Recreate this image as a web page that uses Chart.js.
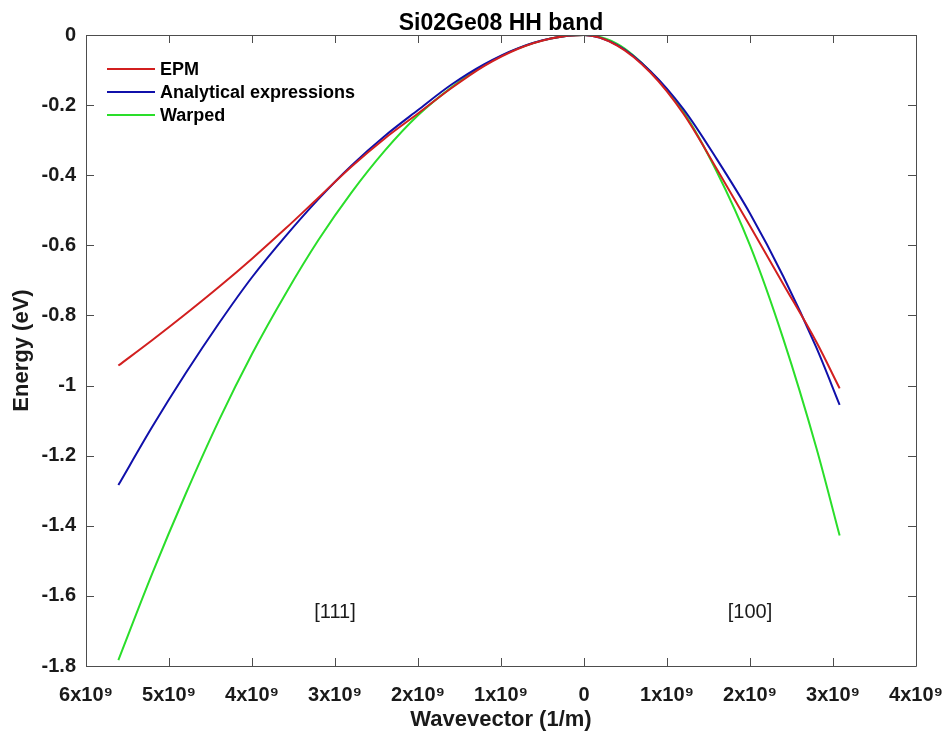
<!DOCTYPE html>
<html>
<head>
<meta charset="utf-8">
<script src="https://cdn.jsdelivr.net/npm/chart.js@4.4.1/dist/chart.umd.min.js"></script>
<style>
  html, body { margin: 0; padding: 0; background: #fff; }
  #wrap { width: 947px; height: 736px; }
</style>
</head>
<body>
<div id="wrap"><canvas id="grafico" width="947" height="736"></canvas></div>
<script>
// Wavevector (in units of 1e9 1/m); negative side = [111], positive side = [100]
const kGrid = [-5.61, -5.2, -4.8, -4.4, -4.0, -3.6, -3.2, -2.8, -2.4, -2.0, -1.6, -1.2, -0.8, -0.4,
  0, 0.4, 0.8, 1.2, 1.6, 2.0, 2.4, 2.8, 3.08];

// Energy (eV)
const epm = [-0.943, -0.87, -0.796, -0.719, -0.638, -0.553, -0.464, -0.375, -0.295, -0.224, -0.152, -0.088, -0.04, -0.01,
  0, -0.03, -0.107, -0.225, -0.382, -0.545, -0.71, -0.876, -1.008];
const analytical = [-1.284, -1.117, -0.965, -0.823, -0.691, -0.575, -0.468, -0.372, -0.288, -0.214, -0.142, -0.083, -0.038, -0.01,
  0, -0.029, -0.103, -0.212, -0.354, -0.509, -0.688, -0.892, -1.055];
const warped = [-1.783, -1.535, -1.31, -1.10, -0.91, -0.74, -0.585, -0.449, -0.33, -0.229, -0.15, -0.086, -0.039, -0.01,
  0, -0.025, -0.104, -0.22, -0.39, -0.60, -0.866, -1.178, -1.428];

const seriesNames = ["EPM", "Analytical expressions", "Warped"];
const seriesColors = ["#d21f1f", "#1010aa", "#2ade2a"];

const xTicks = [-6, -5, -4, -3, -2, -1, 0, 1, 2, 3, 4];
const yTicks = [0, -0.2, -0.4, -0.6, -0.8, -1, -1.2, -1.4, -1.6, -1.8];

// direction labels inside the plot
const notasTexto = ["[111]", "[100]"];
const notasX = [-3.0, 2.0];
const notasY = [-1.646, -1.646];

const FONT = "'Liberation Sans', Arial, Helvetica, sans-serif";
const AXIS = "#4d4d4d";
const TEXT = "#1a1a1a";

function puntos(valores) {
  return kGrid.map((k, i) => ({ x: k * 1e9, y: valores[i] }));
}

// box, inward ticks, legend, notes and title
const decoraciones = {
  id: "decoraciones",
  afterDatasetsDraw(chart) {
    const { ctx, chartArea: a, scales } = chart;
    const sx = scales.x, sy = scales.y;
    ctx.save();
    ctx.strokeStyle = AXIS;
    ctx.lineWidth = 1;
    ctx.beginPath();
    ctx.rect(Math.round(a.left) + 0.5, Math.round(a.top) + 0.5, Math.round(a.right - a.left), Math.round(a.bottom - a.top));
    ctx.stroke();

    const tl = 8;
    ctx.beginPath();
    xTicks.forEach(v => {
      const px = Math.round(sx.getPixelForValue(v * 1e9)) + 0.5;
      ctx.moveTo(px, a.bottom); ctx.lineTo(px, a.bottom - tl);
      ctx.moveTo(px, a.top); ctx.lineTo(px, a.top + tl);
    });
    yTicks.forEach(v => {
      const py = Math.round(sy.getPixelForValue(v)) + 0.5;
      ctx.moveTo(a.left, py); ctx.lineTo(a.left + tl, py);
      ctx.moveTo(a.right, py); ctx.lineTo(a.right - tl, py);
    });
    ctx.stroke();

    // leyenda
    ctx.font = "bold 18px " + FONT;
    ctx.textBaseline = "middle";
    ctx.textAlign = "left";
    seriesNames.forEach((n, i) => {
      const y = 69 + i * 23;
      ctx.strokeStyle = seriesColors[i];
      ctx.lineWidth = 2;
      ctx.beginPath();
      ctx.moveTo(107, y); ctx.lineTo(155, y);
      ctx.stroke();
      ctx.fillStyle = "#000";
      ctx.fillText(n, 160, y + 1);
    });

    // notas
    ctx.font = "20px " + FONT;
    ctx.textAlign = "center";
    ctx.fillStyle = TEXT;
    notasTexto.forEach((t, i) => {
      ctx.fillText(t, sx.getPixelForValue(notasX[i] * 1e9), sy.getPixelForValue(notasY[i]));
    });

    // titulo
    ctx.font = "bold 23px " + FONT;
    ctx.fillStyle = "#000";
    ctx.textBaseline = "alphabetic";
    ctx.fillText("Si02Ge08 HH band", (a.left + a.right) / 2, 30);
    ctx.restore();
  }
};

new Chart(document.getElementById("grafico").getContext("2d"), {
  type: "line",
  data: {
    datasets: [
      { label: seriesNames[0], data: puntos(epm), borderColor: seriesColors[0] },
      { label: seriesNames[1], data: puntos(analytical), borderColor: seriesColors[1] },
      { label: seriesNames[2], data: puntos(warped), borderColor: seriesColors[2] }
    ].map(d => Object.assign(d, { borderWidth: 2, pointRadius: 0, cubicInterpolationMode: "monotone", fill: false }))
  },
  options: {
    responsive: false,
    animation: false,
    events: [],
    layout: { padding: { top: 35, right: 31, left: 0, bottom: 0 } },
    plugins: { legend: { display: false }, tooltip: { enabled: false }, title: { display: false } },
    scales: {
      x: {
        type: "linear",
        min: -6e9,
        max: 4e9,
        afterFit: s => { s.height = 70; s.paddingLeft = 0; s.paddingRight = 0; },
        afterBuildTicks: s => { s.ticks = xTicks.map(v => ({ value: v * 1e9 })); },
        grid: { display: false, drawTicks: false },
        border: { display: false },
        ticks: {
          padding: 17,
          maxRotation: 0,
          autoSkip: false,
          color: TEXT,
          font: { family: FONT, size: 20, weight: "bold" },
          callback: v => v === 0 ? "0" : Math.round(Math.abs(v) / 1e9) + "x10\u2079"
        },
        title: {
          display: true,
          text: "Wavevector (1/m)",
          color: TEXT,
          font: { family: FONT, size: 22, weight: "bold" },
          padding: { top: 0, bottom: 3 }
        }
      },
      y: {
        type: "linear",
        min: -1.8,
        max: 0,
        afterFit: s => { s.width = 86; },
        afterBuildTicks: s => { s.ticks = yTicks.map(v => ({ value: v })); },
        grid: { display: false, drawTicks: false },
        border: { display: false },
        ticks: {
          padding: 10,
          autoSkip: false,
          color: TEXT,
          font: { family: FONT, size: 20, weight: "bold" },
          callback: v => v === 0 ? "0" : String(Math.round(v * 10) / 10)
        },
        title: {
          display: true,
          text: "Energy (eV)",
          color: TEXT,
          font: { family: FONT, size: 22, weight: "bold" },
          padding: { top: 9, bottom: 0 }
        }
      }
    }
  },
  plugins: [decoraciones]
});
</script>
</body>
</html>
